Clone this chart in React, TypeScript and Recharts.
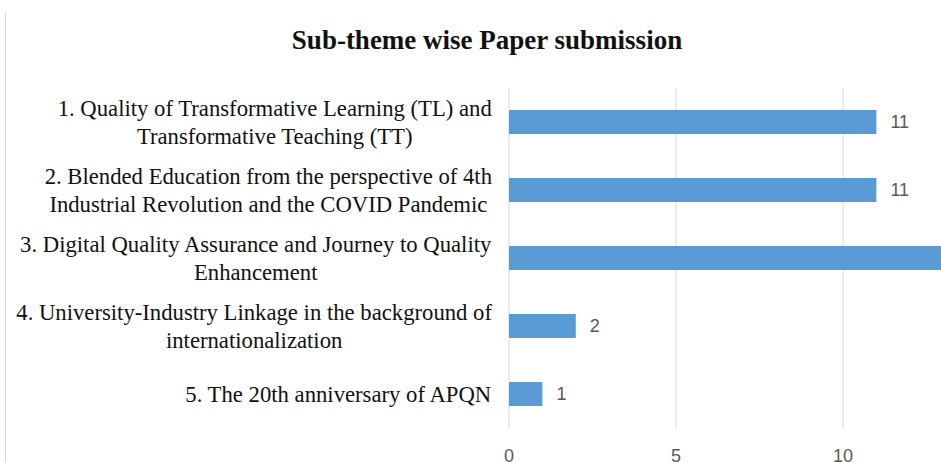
import React from 'react';
import { BarChart, Bar, XAxis, YAxis, CartesianGrid, LabelList } from 'recharts';

const categories = [
    "1. Quality of Transformative Learning (TL) and Transformative Teaching (TT)",
    "2. Blended Education from the perspective of 4th Industrial Revolution and the COVID Pandemic",
    "3. Digital Quality Assurance and Journey to Quality Enhancement",
    "4. University-Industry Linkage in the background of internationalization",
    "5. The 20th anniversary of APQN",
];

const labelLines = [
    ["1. Quality of Transformative Learning (TL) and", "Transformative Teaching (TT)"],
    ["2. Blended Education from the perspective of 4th", "Industrial Revolution and the COVID Pandemic"],
    ["3. Digital Quality Assurance and Journey to Quality", "Enhancement"],
    ["4. University-Industry Linkage in the background of", "internationalization"],
    ["5. The 20th anniversary of APQN"],
];

const submissions = [11, 11, 14, 2, 1];
const xTicks = [0, 5, 10, 15];

const data = categories.map((name, i) => ({ name, papers: submissions[i] }));

const LABEL_SIZE = 22.7;
const LABEL_FONT = `${LABEL_SIZE}px "Liberation Serif"`;
let ctx: CanvasRenderingContext2D | null = null;
const measure = (s: string) => {
    if (!ctx) ctx = document.createElement('canvas').getContext('2d');
    if (!ctx) return s.length * 10;
    ctx.font = LABEL_FONT;
    return ctx.measureText(s).width;
};

const CategoryTick = (props: any) => {
    const { x, y, index } = props;
    const lines = labelLines[index] || [];
    const w = Math.max(...lines.map(measure));
    const cx = x - 9 - w / 2;
    const lh = 28;
    const start = y - ((lines.length - 1) * lh) / 2;
    return (
        <g>
            {lines.map((l, i) => (
                <text key={i} x={cx} y={start + i * lh} dy="0.35em" textAnchor="middle"
                    fontFamily='"Liberation Serif", serif' fontSize={LABEL_SIZE} fill="#111">
                    {l}
                </text>
            ))}
        </g>
    );
};

const App = () => {
    return (
        <div style={{ position: 'absolute', left: 0, top: 0, width: 941, height: 462, overflow: 'hidden', background: '#fff' }}>
            <div style={{ position: 'absolute', left: 5, top: 13, bottom: 0, width: 1, background: '#d4d4d4' }} />
            <div style={{
                position: 'absolute', left: 0, width: 974, top: 25, textAlign: 'center',
                fontFamily: '"Liberation Serif", serif', fontWeight: 'bold', fontSize: 27, color: '#111',
            }}>
                Sub-theme wise Paper submission
            </div>
            <div style={{ position: 'absolute', left: 9, top: 8 }}>
                <BarChart width={1040} height={460} data={data} layout="vertical"
                    margin={{ top: 80, right: 39, left: 0, bottom: 0 }}>
                    <CartesianGrid horizontal={false} stroke="#d9d9d9" />
                    <XAxis type="number" domain={[0, 15]} ticks={xTicks} height={40}
                        axisLine={false} tickLine={false} tickMargin={15}
                        tick={{ fill: '#595959', fontSize: 18, fontFamily: '"Liberation Sans", sans-serif' }} />
                    <YAxis type="category" dataKey="name" width={500}
                        axisLine={false} tickLine={false} tick={<CategoryTick />} interval={0} />
                    <Bar dataKey="papers" fill="#5B9BD5" barSize={24} isAnimationActive={false}>
                        <LabelList dataKey="papers" position="right" offset={14}
                            fill="#595959" fontSize={18} fontFamily='"Liberation Sans", sans-serif' />
                    </Bar>
                </BarChart>
            </div>
        </div>
    );
};

export default App;
